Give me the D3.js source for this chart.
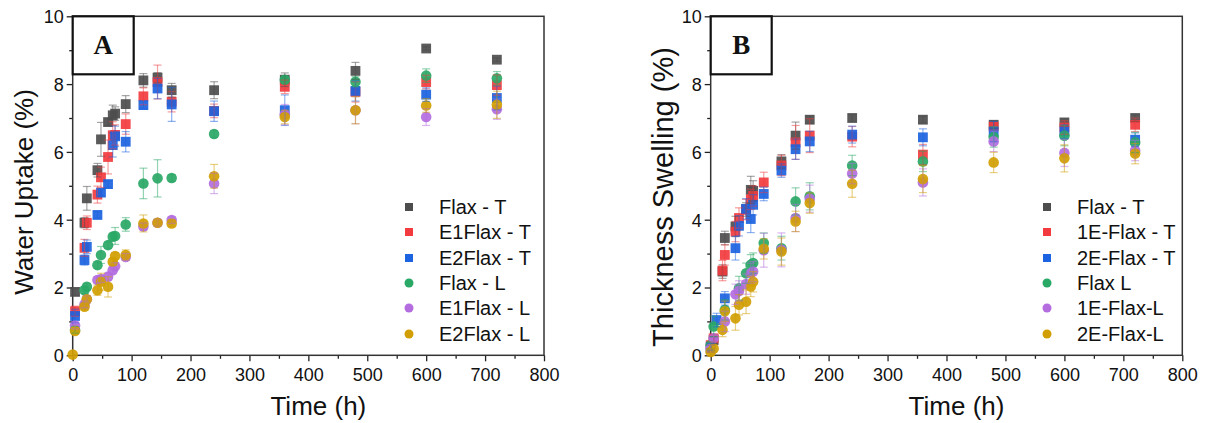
<!DOCTYPE html>
<html><head><meta charset="utf-8">
<script src="https://cdn.jsdelivr.net/npm/d3@7"></script>
<style>body{margin:0;background:#fff}svg{display:block}</style>
</head><body>
<svg id="c" width="1207" height="423"></svg>
<script>
// ---------- data ----------
const xTicks = [0,100,200,300,400,500,600,700,800];
const yTicks = [0,2,4,6,8,10];

// Panel A: Water uptake (%)
const timesA = [0,4,20,24,42,48,60,68,72,90,120,144,168,240,360,480,600,720];
const namesA = ["Flax - T","E1Flax - T","E2Flax - T","Flax - L","E1Flax - L","E2Flax - L"];
const flaxT_A   = [null,1.87,3.91,4.63,5.46,6.37,6.88,7.08,7.13,7.41,8.11,8.19,7.82,7.82,8.13,8.39,9.05,8.72];
const e1flaxT_A = [null,1.30,3.17,3.91,4.74,5.25,5.85,6.49,6.50,6.82,7.64,8.06,7.48,7.21,7.92,7.77,8.06,7.97];
const e2flaxT_A = [null,1.16,2.81,3.20,4.14,4.80,5.05,6.20,6.46,6.30,7.38,7.87,7.40,7.20,7.23,7.80,7.69,7.59];
const flaxL_A   = [null,0.75,1.92,2.02,2.66,2.96,3.25,3.50,3.52,3.86,5.07,5.22,5.23,6.53,8.13,8.07,8.25,8.17];
const e1flaxL_A = [null,0.88,1.50,1.65,2.22,2.25,2.32,2.51,2.63,2.90,3.80,3.91,3.99,5.07,7.10,7.23,7.03,7.26];
const e2flaxL_A = [0.02,0.72,1.43,1.65,1.92,2.17,2.02,2.76,2.93,2.96,3.89,3.91,3.89,5.28,7.03,7.23,7.37,7.39];
const errA = [
  [0,0.10,0.15,0.35,0.20,0.50,0.10,0.30,0.20,0.25,0.20,0.15,0.20,0.25,0.20,0.25,0.05,0.05],
  [0,0.15,0.25,0.20,0.25,0.30,0.50,0.40,0.30,0.30,0.25,0.50,0.30,0.20,0.20,0.30,0.20,0.30],
  [0,0.20,0.15,0.20,0.10,0.10,0.10,0.35,0.30,0.30,0.10,0.30,0.50,0.30,0.45,0.30,0.20,0.35],
  [0,0.10,0.10,0.10,0.10,0.25,0.10,0.10,0.25,0.20,0.45,0.55,0.10,0.10,0.10,0.15,0.20,0.20],
  [0,0.10,0.10,0.10,0.10,0.10,0.10,0.10,0.10,0.10,0.10,0.10,0.10,0.30,0.30,0.40,0.25,0.30],
  [0,0.10,0.10,0.10,0.15,0.25,0.30,0.10,0.10,0.15,0.25,0.10,0.10,0.35,0.20,0.40,0.20,0.40]
];

// Panel B: Thickness swelling (%)
const timesB = [0,5,10,20,24,42,48,60,68,72,90,120,144,168,240,360,480,600,720];
const namesB = ["Flax - T","1E-Flax - T","2E-Flax - T","Flax L","1E-Flax-L","2E-Flax-L"];
const flaxT_B   = [0.20,0.45,null,2.47,3.46,3.80,null,4.30,4.88,4.85,null,5.72,6.48,6.95,7.00,6.95,6.80,6.87,7.00];
const e1flaxT_B = [0.30,0.50,null,2.50,2.96,3.65,4.05,4.30,4.60,4.70,5.10,5.60,6.28,6.48,6.45,5.92,6.75,6.72,6.80];
const e2flaxT_B = [0.25,null,1.04,null,1.68,3.16,3.82,4.32,4.02,4.44,4.76,5.45,6.08,6.31,6.51,6.43,6.60,6.60,6.36];
const flaxL_B   = [0.30,0.85,null,null,1.34,null,1.98,2.42,2.67,2.72,3.31,3.16,4.54,4.69,5.60,5.72,6.44,6.48,6.28];
const e1flaxL_B = [0.20,0.50,null,null,1.00,1.80,1.90,2.10,2.42,2.47,3.10,3.11,4.05,4.62,5.36,5.10,6.31,5.97,6.04];
const e2flaxL_B = [0.10,0.20,null,0.75,1.30,1.09,1.49,1.58,2.03,2.17,3.14,3.06,3.95,4.49,5.06,5.20,5.69,5.81,5.95];
const errB = [
  [0.1,0.1,0,0.2,0.2,0.3,0,0.2,0.4,0.3,0,0.2,0.4,0.1,0.1,0.1,0.1,0.1,0.1],
  [0.1,0.1,0,0.3,0.3,0.3,0.3,0.3,0.3,0.3,0.3,0.3,0.5,0.5,0.3,0.3,0.1,0.2,0.2],
  [0.1,0,0.2,0,0.2,0.35,0.3,0.3,0.4,0.3,0.2,0.2,0.3,0.3,0.25,0.25,0.3,0.2,0.2],
  [0.1,0.3,0,0,0.3,0,0.35,0.3,0.3,0.3,0.3,0.35,0.4,0.4,0.3,0.3,0.3,0.3,0.3],
  [0.1,0.1,0,0,0.3,0.3,0.3,0.3,0.3,0.3,0.5,0.5,0.4,0.4,0.3,0.4,0.3,0.4,0.3],
  [0.1,0.1,0,0.2,0.3,0.35,0.3,0.35,0.3,0.3,0.3,0.4,0.3,0.3,0.4,0.4,0.3,0.4,0.3]
];

const colors = ["#4d4d4d","#f23b3e","#1b63e0","#2aa866","#b36ddf","#d19f03"];
const shapes = ["square","square","square","circle","circle","circle"];

// ---------- drawing ----------
const svg = d3.select("#c");
const font = "'Liberation Sans', Arial, sans-serif";

function panel(opt){
  const x = d3.scaleLinear().domain([0,800]).range([opt.x0, opt.x1]);
  const y = d3.scaleLinear().domain([0,10]).range([355.3, 16.3]);
  const g = svg.append("g");

  // minor ticks
  g.append("g").attr("transform",`translate(0,${y(0)})`)
    .call(d3.axisBottom(x).tickValues(d3.range(50,800,100)).tickSize(3.5).tickFormat(""))
    .call(a=>a.select(".domain").remove());
  g.append("g").attr("transform",`translate(${x(0)},0)`)
    .call(d3.axisLeft(y).tickValues([1,3,5,7,9]).tickSize(3.5).tickFormat(""))
    .call(a=>a.select(".domain").remove());
  // major
  const ax = g.append("g").attr("transform",`translate(0,${y(0)})`)
    .call(d3.axisBottom(x).tickValues(xTicks).tickSize(6).tickPadding(4).tickSizeOuter(0));
  const ay = g.append("g").attr("transform",`translate(${x(0)},0)`)
    .call(d3.axisLeft(y).tickValues(yTicks).tickSize(6).tickPadding(3).tickSizeOuter(0));
  g.selectAll(".tick line").attr("stroke","#222").attr("stroke-width",1.3);
  [ax,ay].forEach(a=>{a.select(".domain").remove();
    a.selectAll("text").attr("font-family",font).attr("font-size",18).attr("fill","#111");});
  ax.selectAll("text").attr("dy","0.9em");
  ay.selectAll("text").attr("dy","0.36em");

  // frame
  g.append("rect").attr("x",x(0)).attr("y",y(10)).attr("width",x(800)-x(0)).attr("height",y(0)-y(10))
    .attr("fill","none").attr("stroke","#333").attr("stroke-width",1.5);

  // axis titles
  g.append("text").attr("x",(x(0)+x(800))/2+10).attr("y",415).attr("text-anchor","middle")
    .attr("font-family",font).attr("font-size",26).attr("fill","#111").text("Time (h)");
  g.append("text").attr("transform",`translate(${opt.ylabX},${opt.ylabY}) rotate(-90)`)
    .attr("text-anchor","middle").attr("font-family",font).attr("font-size",opt.ylabSize).attr("fill","#111").text(opt.ylabel);

  // markers
  opt.series.forEach((vals,si)=>{
    const pts = opt.times.map((t,i)=>({t, v:vals[i]})).filter(d=>d.v!=null);
    const mg = g.append("g").attr("fill",colors[si]).attr("fill-opacity",0.92);
    if(shapes[si]==="square"){
      mg.selectAll("rect").data(pts).join("rect")
        .attr("x",d=>x(d.t)-4.9).attr("y",d=>y(d.v)-4.9).attr("width",9.8).attr("height",9.8);
    } else {
      mg.selectAll("circle").data(pts).join("circle")
        .attr("cx",d=>x(d.t)).attr("cy",d=>y(d.v)).attr("r",5.3);
    }
  });
  // error bars (drawn on top, translucent)
  opt.series.forEach((vals,si)=>{
    const pts = opt.times.map((t,i)=>({t, v:vals[i], e:opt.err[si][i]})).filter(d=>d.v!=null && d.e>0);
    const eg = g.append("g").attr("stroke",colors[si]).attr("stroke-opacity",0.5).attr("stroke-width",1.2);
    pts.forEach(d=>{
      const cx=x(d.t), y1=y(d.v+d.e), y2=y(d.v-d.e);
      eg.append("line").attr("x1",cx).attr("x2",cx).attr("y1",y1).attr("y2",y2);
      eg.append("line").attr("x1",cx-4).attr("x2",cx+4).attr("y1",y1).attr("y2",y1);
      eg.append("line").attr("x1",cx-4).attr("x2",cx+4).attr("y1",y2).attr("y2",y2);
    });
  });

  // legend
  const rows = [207,232,258,283,308,334];
  opt.names.forEach((n,i)=>{
    if(shapes[i]==="square")
      g.append("rect").attr("x",opt.legX-4).attr("y",rows[i]-4).attr("width",8).attr("height",8).attr("fill",colors[i]);
    else
      g.append("circle").attr("cx",opt.legX).attr("cy",rows[i]).attr("r",4.5).attr("fill",colors[i]);
    g.append("text").attr("x",opt.legX+30).attr("y",rows[i]).attr("dy","0.36em")
      .attr("font-family",font).attr("font-size",20).attr("fill","#111").text(n);
  });

  // panel letter box
  g.append("rect").attr("x",x(0)).attr("y",y(10)).attr("width",61).attr("height",58)
    .attr("fill","#fff").attr("stroke","#111").attr("stroke-width",2.2);
  g.append("text").attr("x",x(0)+30.5).attr("y",y(10)+38).attr("text-anchor","middle")
    .attr("font-family","'Liberation Serif','Times New Roman',serif").attr("font-weight","bold")
    .attr("font-size",27).attr("fill","#111").text(opt.letter);
}

panel({x0:72.7,x1:544,ylabX:33,ylabY:192,ylabSize:26,ylabel:"Water Uptake (%)",times:timesA,
  series:[flaxT_A,e1flaxT_A,e2flaxT_A,flaxL_A,e1flaxL_A,e2flaxL_A],err:errA,names:namesA,legX:409,letter:"A"});
panel({x0:710.7,x1:1182.3,ylabX:673,ylabY:197,ylabSize:29,ylabel:"Thickness Swelling (%)",times:timesB,
  series:[flaxT_B,e1flaxT_B,e2flaxT_B,flaxL_B,e1flaxL_B,e2flaxL_B],err:errB,names:namesB,legX:1047,letter:"B"});
</script>
</body></html>
